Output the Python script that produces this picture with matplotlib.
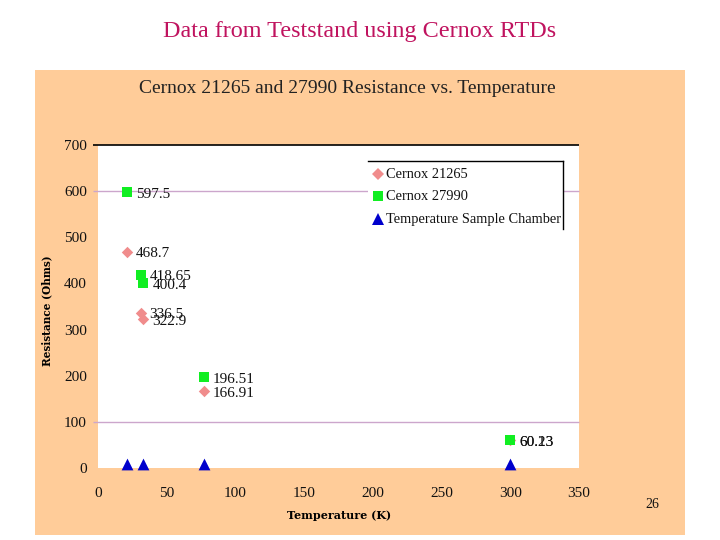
import matplotlib
matplotlib.use("Agg")
import matplotlib.pyplot as plt
from matplotlib.patches import Rectangle

plt.rcParams['font.family'] = ['Liberation Serif', 'DejaVu Serif']

slide_title = "Data from Teststand using Cernox RTDs"
chart_title = "Cernox 21265 and 27990 Resistance vs. Temperature"
x_label = "Temperature (K)"
y_label = "Resistance (Ohms)"
page_number = "26"
x_ticks = [0, 50, 100, 150, 200, 250, 300, 350]
y_ticks = [0, 100, 200, 300, 400, 500, 600, 700]
visible_gridlines = [100, 600]
top_line = [700]

cernox_21265_t = [21, 31, 33, 77, 300]
cernox_21265_r = [468.7, 336.5, 322.9, 166.91, 60.13]
cernox_27990_t = [21, 31, 33, 77, 300]
cernox_27990_r = [597.5, 418.65, 400.4, 196.51, 60.23]
chamber_t = [21, 33, 77, 300]
chamber_r = [8, 8, 8, 8]

W, H = 720, 540
fig = plt.figure(figsize=(W / 100, H / 100), dpi=100, facecolor='white')
fig.add_artist(Rectangle((35 / W, 1 - 535 / H), 650 / W, 465 / H,
                         transform=fig.transFigure, fc='#FFCC99', ec='none', zorder=-5))

ax = fig.add_axes([98 / W, 1 - 468 / H, 481 / W, 323 / H])
ax.set_xlim(0, 350)
ax.set_ylim(0, 700)
ax.set_facecolor('white')
ax.set_xticks(x_ticks)
ax.set_yticks(y_ticks)
ax.tick_params(axis='x', length=0, labelsize=11, pad=13.5, colors='#111111')
ax.tick_params(axis='y', length=0, labelsize=11, pad=8, colors='#111111')
for side in ['left', 'right', 'bottom', 'top']:
    ax.spines[side].set_visible(False)

ax.hlines(visible_gridlines, -3.5, 350, color='#CCA6CC', lw=1.0, zorder=1, clip_on=False)
ax.hlines(top_line, -3.5, 350, color='black', lw=1.2, zorder=1, clip_on=False)

ax.scatter(cernox_21265_t, cernox_21265_r, marker='D', s=34, c='#F08C8C', zorder=3,
           linewidths=0, label='Cernox 21265', clip_on=False)
ax.scatter(cernox_27990_t, cernox_27990_r, marker='s', s=62, c='#11EE22', zorder=4,
           linewidths=0, label='Cernox 27990', clip_on=False)
ax.scatter(chamber_t, chamber_r, marker='^', s=72, c='#0000CC', zorder=5,
           linewidths=0, label='Temperature Sample Chamber', clip_on=False)

for t, r in zip(cernox_21265_t, cernox_21265_r):
    ax.annotate(f"{r:g}", (t, r), xytext=(6.5, -1.5), textcoords='offset points',
                fontsize=11, va='center', ha='left', color='#111111', zorder=6)
for t, r in zip(cernox_27990_t, cernox_27990_r):
    ax.annotate(f"{r:g}", (t, r), xytext=(6.5, -1.5), textcoords='offset points',
                fontsize=11, va='center', ha='left', color='#111111', zorder=6)

ax.set_xlabel(x_label, fontsize=8, fontweight='bold', family='DejaVu Serif')
ax.xaxis.set_label_coords((339 - 98) / 481, (468 - 510) / 323)
ax.set_ylabel(y_label, fontsize=7.6, fontweight='bold', family='DejaVu Serif')
ax.yaxis.set_label_coords((52 - 98) / 481, (468 - 311) / 323)

legend_box = Rectangle((368 / W, 1 - 229 / H), 196 / W, 68 / H, transform=fig.transFigure,
                       fc='white', ec='none', zorder=7)
fig.add_artist(legend_box)
fig.add_artist(plt.Line2D([368 / W, 563 / W], [1 - 161 / H, 1 - 161 / H], color='black', lw=1,
                          transform=fig.transFigure, zorder=8))
fig.add_artist(plt.Line2D([563 / W, 563 / W], [1 - 161 / H, 1 - 229 / H], color='black', lw=1,
                          transform=fig.transFigure, zorder=8))
legend_rows = [('Cernox 21265', 'D', '#F08C8C', 34, 174),
               ('Cernox 27990', 's', '#11EE22', 62, 196),
               ('Temperature Sample Chamber', '^', '#0000CC', 72, 219)]
for label, marker, color, size, py in legend_rows:
    fig.add_artist(plt.Line2D([378 / W], [1 - py / H], marker=marker, color=color, ls='none',
                              ms=size ** 0.5, mew=0, transform=fig.transFigure, zorder=9))
    fig.text(386 / W, 1 - py / H, label, fontsize=10.4, va='center', ha='left', zorder=9,
             color='#111111')

fig.text(360 / W, 1 - 32 / H, slide_title, fontsize=17.4, color='#C0135F', ha='center', va='center')
fig.text(347 / W, 1 - 88.5 / H, chart_title, fontsize=14, color='#222222', ha='center', va='center')
fig.text(652 / W, 1 - 505 / H, page_number, fontsize=10, color='#111111', ha='center', va='center')

fig.savefig('out.png', dpi=100, facecolor='white')
